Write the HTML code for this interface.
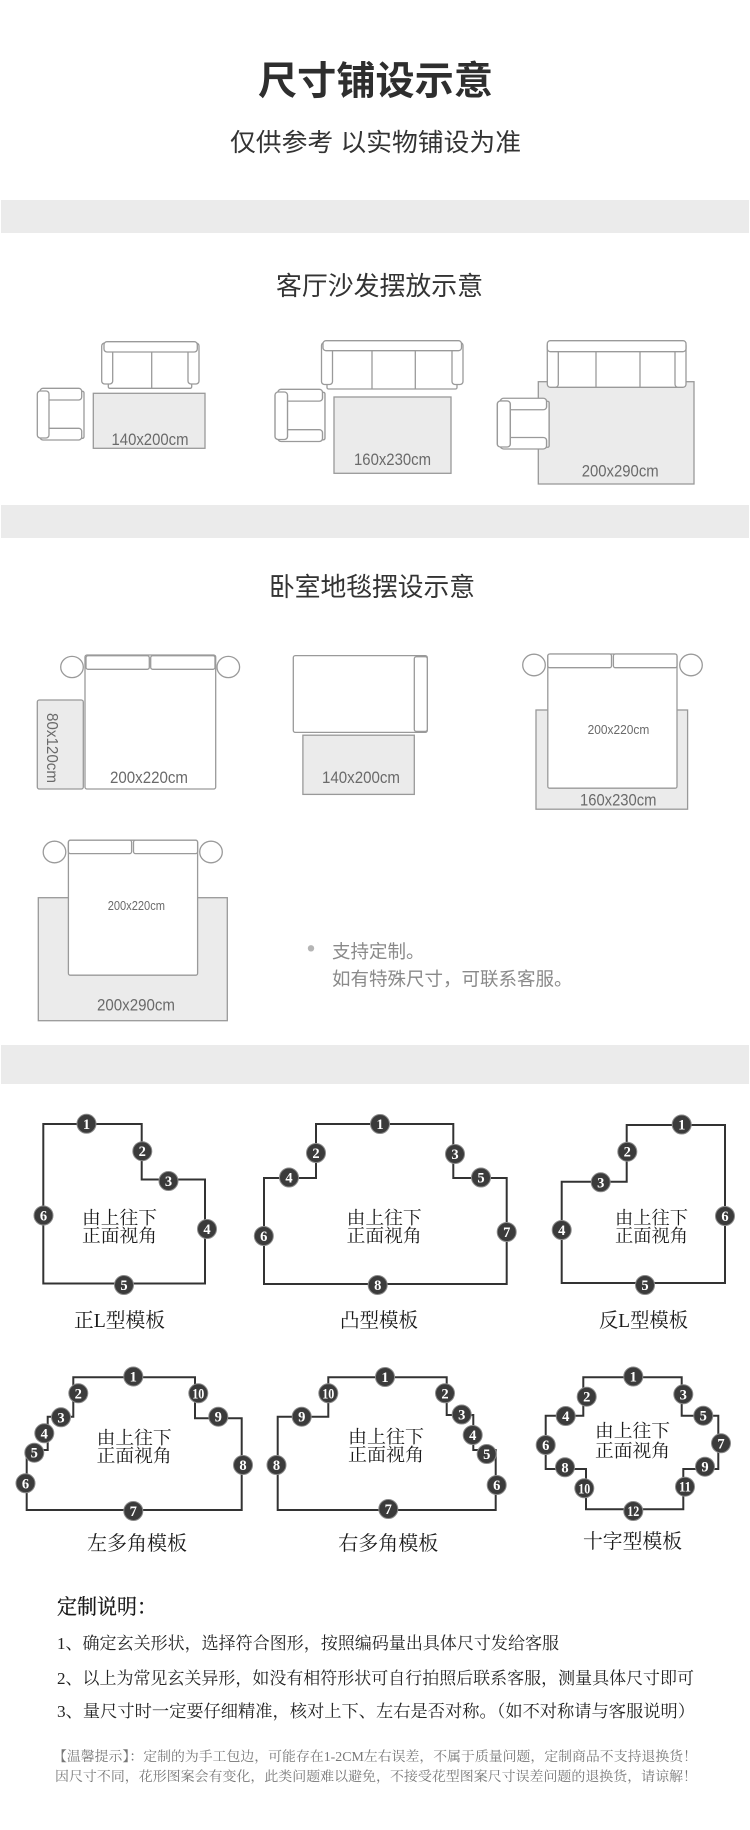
<!DOCTYPE html>
<html><head><meta charset="utf-8"><style>
html,body{margin:0;padding:0;background:#fff;}
svg{display:block;}
.sans{font-family:"Liberation Sans","Noto Sans CJK SC",sans-serif;}
.serif{font-family:"Liberation Serif","Noto Serif CJK SC",serif;}
.f{fill:#fff;stroke:#9a9a9a;stroke-width:1.3;}
.rug{fill:#ebebeb;stroke:#999;stroke-width:1.3;}
.lbl{font-family:"Liberation Sans",sans-serif;fill:#6a6a6a;}
.shp{fill:none;stroke:#333;stroke-width:2;}
.bc{fill:#3b3b3b;stroke:#8a8a8a;stroke-width:1;}
.bt{font-family:"Liberation Serif",serif;font-weight:bold;font-size:14.5px;fill:#fff;text-anchor:middle;}
.st{font-family:"Liberation Serif","Noto Serif CJK SC",serif;font-size:18px;fill:#1a1a1a;text-anchor:middle;}
.sl{font-family:"Liberation Serif","Noto Serif CJK SC",serif;font-size:20px;fill:#1a1a1a;text-anchor:middle;}
</style></head><body>
<svg xmlns="http://www.w3.org/2000/svg" width="750" height="1830" viewBox="0 0 750 1830">
<rect width="750" height="1830" fill="#fff"/>

<!-- Header -->
<text class="sans" x="375.5" y="94.5" font-size="39" font-weight="bold" text-anchor="middle" textLength="235" lengthAdjust="spacingAndGlyphs" fill="#2e2e2e">尺寸铺设示意</text>
<text class="sans" x="375.5" y="151" font-size="25" text-anchor="middle" textLength="291" lengthAdjust="spacingAndGlyphs" fill="#333">仅供参考 以实物铺设为准</text>

<!-- bands -->
<rect x="1" y="200" width="748" height="33" fill="#ebebeb"/>
<rect x="1" y="505" width="748" height="33" fill="#ebebeb"/>
<rect x="1" y="1045" width="748" height="39" fill="#ebebeb"/>

<!-- Living room -->
<text class="sans" x="379.5" y="295" font-size="26" text-anchor="middle" textLength="207" lengthAdjust="spacingAndGlyphs" fill="#333">客厅沙发摆放示意</text>

<!-- diagram 1 -->
<rect class="rug" x="93.3" y="393.3" width="111.7" height="55"/>
<g>
<rect class="f" x="108.3" y="350" width="83.4" height="38.3" rx="1.5"/>
<rect class="f" x="101.7" y="343" width="11" height="41" rx="3"/>
<rect class="f" x="188" y="343" width="11" height="41" rx="3"/>
<rect class="f" x="104" y="341.7" width="93.3" height="10.3" rx="3"/>
<line x1="151.7" y1="352" x2="151.7" y2="388.3" stroke="#9a9a9a" stroke-width="1.3"/>
</g>
<g transform="translate(37.3,388.3)">
<rect class="f" x="9" y="3" width="37.7" height="47" rx="1.5"/>
<rect class="f" x="2.7" y="0" width="41.7" height="11.7" rx="3"/>
<rect class="f" x="2.7" y="40" width="41.7" height="11.7" rx="3"/>
<rect class="f" x="0" y="2.7" width="11.7" height="47" rx="3"/>
</g>
<text class="lbl" x="111.5" y="445" font-size="16.5" textLength="77" lengthAdjust="spacingAndGlyphs">140x200cm</text>

<!-- diagram 2 -->
<rect class="rug" x="334" y="397" width="117" height="76.3"/>
<g>
<rect class="f" x="327" y="350" width="130" height="39" rx="1.5"/>
<rect class="f" x="321.5" y="342.5" width="11" height="42" rx="3"/>
<rect class="f" x="452" y="342.5" width="11" height="42" rx="3"/>
<rect class="f" x="323" y="340.7" width="138.5" height="10" rx="3"/>
<line x1="372" y1="351" x2="372" y2="389" stroke="#9a9a9a" stroke-width="1.3"/>
<line x1="415.3" y1="351" x2="415.3" y2="389" stroke="#9a9a9a" stroke-width="1.3"/>
</g>
<g transform="translate(275,389.3) scale(1.07,1.01)">
<rect class="f" x="9" y="3" width="37.7" height="47" rx="1.5"/>
<rect class="f" x="2.7" y="0" width="41.7" height="11.7" rx="3"/>
<rect class="f" x="2.7" y="40" width="41.7" height="11.7" rx="3"/>
<rect class="f" x="0" y="2.7" width="11.7" height="47" rx="3"/>
</g>
<text class="lbl" x="354" y="465" font-size="16.5" textLength="77" lengthAdjust="spacingAndGlyphs">160x230cm</text>

<!-- diagram 3 -->
<rect class="rug" x="538.3" y="381.7" width="155.7" height="102.3"/>
<g>
<rect class="f" x="553" y="351" width="127" height="36.3" rx="1.5"/>
<rect class="f" x="547.3" y="342.7" width="11" height="44.6" rx="3"/>
<rect class="f" x="675" y="342.7" width="11" height="44.6" rx="3"/>
<rect class="f" x="547.3" y="340.7" width="138.7" height="11" rx="3"/>
<line x1="596" y1="352" x2="596" y2="387.3" stroke="#9a9a9a" stroke-width="1.3"/>
<line x1="640" y1="352" x2="640" y2="387.3" stroke="#9a9a9a" stroke-width="1.3"/>
</g>
<g transform="translate(497.3,398.3) scale(1.11,0.98)">
<rect class="f" x="9" y="3" width="37.7" height="47" rx="1.5"/>
<rect class="f" x="2.7" y="0" width="41.7" height="11.7" rx="3"/>
<rect class="f" x="2.7" y="40" width="41.7" height="11.7" rx="3"/>
<rect class="f" x="0" y="2.7" width="11.7" height="47" rx="3"/>
</g>
<text class="lbl" x="581.7" y="476.5" font-size="16.5" textLength="77" lengthAdjust="spacingAndGlyphs">200x290cm</text>

<!-- Bedroom -->
<text class="sans" x="372" y="596" font-size="26" text-anchor="middle" textLength="206" lengthAdjust="spacingAndGlyphs" fill="#333">卧室地毯摆设示意</text>

<!-- bed 1 -->
<rect class="rug" x="37.3" y="700" width="46" height="89" rx="2"/>
<text class="lbl" transform="translate(47,748) rotate(90)" x="0" y="0" font-size="16" text-anchor="middle" textLength="70" lengthAdjust="spacingAndGlyphs">80x120cm</text>
<ellipse class="f" cx="72" cy="667" rx="11.3" ry="10.6"/>
<ellipse class="f" cx="228.3" cy="667" rx="11.3" ry="10.6"/>
<rect class="f" x="85" y="655" width="130.7" height="134" rx="2"/>
<rect class="f" x="86" y="655.7" width="63.3" height="13.6" rx="2"/>
<rect class="f" x="150.7" y="655.7" width="64.3" height="13.6" rx="2"/>
<text class="lbl" x="110" y="783" font-size="16.5" textLength="78" lengthAdjust="spacingAndGlyphs">200x220cm</text>

<!-- bed 2 -->
<rect class="f" x="293.3" y="655.6" width="134" height="76.8" rx="2"/>
<rect class="f" x="414.3" y="656.7" width="13" height="74.7" rx="2"/>
<rect class="rug" x="302.9" y="735.2" width="111.4" height="59.2"/>
<text class="lbl" x="322" y="783" font-size="16.5" textLength="78" lengthAdjust="spacingAndGlyphs">140x200cm</text>

<!-- bed 3 -->
<rect class="rug" x="536" y="710" width="151.6" height="99.2"/>
<ellipse class="f" cx="534" cy="665" rx="11.3" ry="10.8"/>
<ellipse class="f" cx="691" cy="665" rx="11.3" ry="10.8"/>
<rect class="f" x="547.8" y="654" width="129.2" height="134.2" rx="2"/>
<rect class="f" x="547.8" y="654" width="63.7" height="13.7" rx="2"/>
<rect class="f" x="613.4" y="654" width="63.6" height="13.7" rx="2"/>
<text class="lbl" x="587.6" y="734" font-size="13" textLength="61.7" lengthAdjust="spacingAndGlyphs">200x220cm</text>
<text class="lbl" x="580" y="805.5" font-size="16.5" textLength="76.5" lengthAdjust="spacingAndGlyphs">160x230cm</text>

<!-- bed 4 -->
<rect class="rug" x="38.3" y="897.7" width="189" height="123"/>
<ellipse class="f" cx="54.5" cy="852" rx="11.3" ry="10.8"/>
<ellipse class="f" cx="211" cy="852" rx="11.3" ry="10.8"/>
<rect class="f" x="68.4" y="840.2" width="129.2" height="135" rx="2"/>
<rect class="f" x="68.4" y="840.2" width="63.2" height="13.4" rx="2"/>
<rect class="f" x="133.5" y="840.2" width="64.1" height="13.4" rx="2"/>
<text class="lbl" x="107.7" y="910" font-size="13" textLength="57.3" lengthAdjust="spacingAndGlyphs">200x220cm</text>
<text class="lbl" x="97" y="1010.5" font-size="16.5" textLength="78" lengthAdjust="spacingAndGlyphs">200x290cm</text>

<!-- bullet text -->
<circle cx="311" cy="948.3" r="3.2" fill="#b5b5b5"/>
<text class="sans" x="332" y="958" font-size="18.5" fill="#8a8a8a">支持定制。</text>
<text class="sans" x="332" y="985.5" font-size="18.5" fill="#8a8a8a">如有特殊尺寸，可联系客服。</text>

<!-- ===== Shapes row 1 ===== -->
<!-- 正L -->
<polygon class="shp" points="43.3,1124 141.7,1124 141.7,1179.5 205,1179.5 205,1283.5 43.3,1283.5"/>
<text class="st" x="119.5" y="1224" textLength="75" lengthAdjust="spacingAndGlyphs">由上往下</text>
<text class="st" x="119.5" y="1242" textLength="75" lengthAdjust="spacingAndGlyphs">正面视角</text>
<g><circle class="bc" cx="86.5" cy="1123.8" r="9.5"/><text class="bt" x="86.5" y="1128.8">1</text></g>
<g><circle class="bc" cx="142.3" cy="1151.2" r="9.5"/><text class="bt" x="142.3" y="1156.2">2</text></g>
<g><circle class="bc" cx="168.5" cy="1181" r="9.5"/><text class="bt" x="168.5" y="1186">3</text></g>
<g><circle class="bc" cx="207" cy="1229" r="9.5"/><text class="bt" x="207" y="1234">4</text></g>
<g><circle class="bc" cx="124" cy="1285" r="9.5"/><text class="bt" x="124" y="1290">5</text></g>
<g><circle class="bc" cx="43.5" cy="1215.5" r="9.5"/><text class="bt" x="43.5" y="1220.5">6</text></g>
<text class="sl" x="119.5" y="1327" textLength="91" lengthAdjust="spacingAndGlyphs">正L型模板</text>

<!-- 凸 -->
<polygon class="shp" points="316,1124 453.3,1124 453.3,1178 506.7,1178 506.7,1284 264,1284 264,1178 316,1178"/>
<text class="st" x="384.2" y="1224" textLength="75" lengthAdjust="spacingAndGlyphs">由上往下</text>
<text class="st" x="384.2" y="1242" textLength="75" lengthAdjust="spacingAndGlyphs">正面视角</text>
<g><circle class="bc" cx="380" cy="1124" r="9.5"/><text class="bt" x="380" y="1129">1</text></g>
<g><circle class="bc" cx="316" cy="1153" r="9.5"/><text class="bt" x="316" y="1158">2</text></g>
<g><circle class="bc" cx="455" cy="1154" r="9.5"/><text class="bt" x="455" y="1159">3</text></g>
<g><circle class="bc" cx="289" cy="1177.5" r="9.5"/><text class="bt" x="289" y="1182.5">4</text></g>
<g><circle class="bc" cx="481" cy="1177.5" r="9.5"/><text class="bt" x="481" y="1182.5">5</text></g>
<g><circle class="bc" cx="263.8" cy="1236" r="9.5"/><text class="bt" x="263.8" y="1241">6</text></g>
<g><circle class="bc" cx="506.7" cy="1232" r="9.5"/><text class="bt" x="506.7" y="1237">7</text></g>
<g><circle class="bc" cx="377.7" cy="1285" r="9.5"/><text class="bt" x="377.7" y="1290">8</text></g>
<text class="sl" x="379" y="1327" textLength="78" lengthAdjust="spacingAndGlyphs">凸型模板</text>

<!-- 反L -->
<polygon class="shp" points="626.7,1125 725,1125 725,1283 561.7,1283 561.7,1181.7 626.7,1181.7"/>
<text class="st" x="651.5" y="1224" textLength="73" lengthAdjust="spacingAndGlyphs">由上往下</text>
<text class="st" x="651.5" y="1242" textLength="73" lengthAdjust="spacingAndGlyphs">正面视角</text>
<g><circle class="bc" cx="681.7" cy="1124.5" r="9.5"/><text class="bt" x="681.7" y="1129.5">1</text></g>
<g><circle class="bc" cx="627.3" cy="1151.7" r="9.5"/><text class="bt" x="627.3" y="1156.7">2</text></g>
<g><circle class="bc" cx="600.7" cy="1182.3" r="9.5"/><text class="bt" x="600.7" y="1187.3">3</text></g>
<g><circle class="bc" cx="561.7" cy="1230" r="9.5"/><text class="bt" x="561.7" y="1235">4</text></g>
<g><circle class="bc" cx="645" cy="1285" r="9.5"/><text class="bt" x="645" y="1290">5</text></g>
<g><circle class="bc" cx="725" cy="1216" r="9.5"/><text class="bt" x="725" y="1221">6</text></g>
<text class="sl" x="643.5" y="1327" textLength="89" lengthAdjust="spacingAndGlyphs">反L型模板</text>

<!-- ===== Shapes row 2 ===== -->
<!-- 左多角 -->
<polygon class="shp" points="73.3,1377.3 195,1377.3 195,1418.3 241.7,1418.3 241.7,1510 26.7,1510 26.7,1450 47.7,1450 47.7,1416.7 73.3,1416.7"/>
<text class="st" x="134.2" y="1444" textLength="75" lengthAdjust="spacingAndGlyphs">由上往下</text>
<text class="st" x="134.2" y="1462" textLength="75" lengthAdjust="spacingAndGlyphs">正面视角</text>
<g><circle class="bc" cx="133.3" cy="1376.5" r="9.5"/><text class="bt" x="133.3" y="1381.5">1</text></g>
<g><circle class="bc" cx="78.3" cy="1393.3" r="9.5"/><text class="bt" x="78.3" y="1398.3">2</text></g>
<g><circle class="bc" cx="61" cy="1417.3" r="9.5"/><text class="bt" x="61" y="1422.3">3</text></g>
<g><circle class="bc" cx="44.3" cy="1433.3" r="9.5"/><text class="bt" x="44.3" y="1438.3">4</text></g>
<g><circle class="bc" cx="34.3" cy="1452.7" r="9.5"/><text class="bt" x="34.3" y="1457.7">5</text></g>
<g><circle class="bc" cx="25.5" cy="1483.3" r="9.5"/><text class="bt" x="25.5" y="1488.3">6</text></g>
<g><circle class="bc" cx="133.3" cy="1511" r="9.5"/><text class="bt" x="133.3" y="1516">7</text></g>
<g><circle class="bc" cx="243" cy="1465" r="9.5"/><text class="bt" x="243" y="1470">8</text></g>
<g><circle class="bc" cx="218.3" cy="1416.7" r="9.5"/><text class="bt" x="218.3" y="1421.7">9</text></g>
<g><circle class="bc" cx="198.3" cy="1393.3" r="9.5"/><text class="bt" x="198.3" y="1398.3" textLength="12" lengthAdjust="spacingAndGlyphs">10</text></g>
<text class="sl" x="137" y="1550" textLength="100" lengthAdjust="spacingAndGlyphs">左多角模板</text>

<!-- 右多角 -->
<polygon class="shp" points="277.7,1510 277.7,1416.7 328.3,1416.7 328.3,1377.3 446.7,1377.3 446.7,1415 473.3,1415 473.3,1450 495.7,1450 495.7,1510"/>
<text class="st" x="386" y="1443" textLength="76" lengthAdjust="spacingAndGlyphs">由上往下</text>
<text class="st" x="386" y="1461" textLength="76" lengthAdjust="spacingAndGlyphs">正面视角</text>
<g><circle class="bc" cx="385" cy="1377" r="9.5"/><text class="bt" x="385" y="1382">1</text></g>
<g><circle class="bc" cx="445" cy="1393.3" r="9.5"/><text class="bt" x="445" y="1398.3">2</text></g>
<g><circle class="bc" cx="461.7" cy="1414.5" r="9.5"/><text class="bt" x="461.7" y="1419.5">3</text></g>
<g><circle class="bc" cx="472.7" cy="1435" r="9.5"/><text class="bt" x="472.7" y="1440">4</text></g>
<g><circle class="bc" cx="486.7" cy="1454" r="9.5"/><text class="bt" x="486.7" y="1459">5</text></g>
<g><circle class="bc" cx="496.7" cy="1485" r="9.5"/><text class="bt" x="496.7" y="1490">6</text></g>
<g><circle class="bc" cx="388.3" cy="1509" r="9.5"/><text class="bt" x="388.3" y="1514">7</text></g>
<g><circle class="bc" cx="276.5" cy="1465" r="9.5"/><text class="bt" x="276.5" y="1470">8</text></g>
<g><circle class="bc" cx="301.7" cy="1416.7" r="9.5"/><text class="bt" x="301.7" y="1421.7">9</text></g>
<g><circle class="bc" cx="328.3" cy="1393.3" r="9.5"/><text class="bt" x="328.3" y="1398.3" textLength="12" lengthAdjust="spacingAndGlyphs">10</text></g>
<text class="sl" x="388.3" y="1550" textLength="100" lengthAdjust="spacingAndGlyphs">右多角模板</text>

<!-- 十字 -->
<polygon class="shp" points="583.3,1377.3 681.7,1377.3 681.7,1415.7 718.3,1415.7 718.3,1469 683.3,1469 683.3,1509.3 586,1509.3 586,1469 545.7,1469 545.7,1415.7 583.3,1415.7"/>
<text class="st" x="632.5" y="1437" textLength="75" lengthAdjust="spacingAndGlyphs">由上往下</text>
<text class="st" x="632.5" y="1457" textLength="75" lengthAdjust="spacingAndGlyphs">正面视角</text>
<g><circle class="bc" cx="633.3" cy="1376.5" r="9.5"/><text class="bt" x="633.3" y="1381.5">1</text></g>
<g><circle class="bc" cx="586.7" cy="1396.7" r="9.5"/><text class="bt" x="586.7" y="1401.7">2</text></g>
<g><circle class="bc" cx="683.3" cy="1394.3" r="9.5"/><text class="bt" x="683.3" y="1399.3">3</text></g>
<g><circle class="bc" cx="565.7" cy="1416" r="9.5"/><text class="bt" x="565.7" y="1421">4</text></g>
<g><circle class="bc" cx="703.3" cy="1415.7" r="9.5"/><text class="bt" x="703.3" y="1420.7">5</text></g>
<g><circle class="bc" cx="545.7" cy="1445" r="9.5"/><text class="bt" x="545.7" y="1450">6</text></g>
<g><circle class="bc" cx="721" cy="1443.3" r="9.5"/><text class="bt" x="721" y="1448.3">7</text></g>
<g><circle class="bc" cx="565" cy="1467.3" r="9.5"/><text class="bt" x="565" y="1472.3">8</text></g>
<g><circle class="bc" cx="705" cy="1466.7" r="9.5"/><text class="bt" x="705" y="1471.7">9</text></g>
<g><circle class="bc" cx="584.3" cy="1488.3" r="9.5"/><text class="bt" x="584.3" y="1493.3" textLength="12" lengthAdjust="spacingAndGlyphs">10</text></g>
<g><circle class="bc" cx="685" cy="1486.7" r="9.5"/><text class="bt" x="685" y="1491.7" textLength="12" lengthAdjust="spacingAndGlyphs">11</text></g>
<g><circle class="bc" cx="633.3" cy="1511" r="9.5"/><text class="bt" x="633.3" y="1516" textLength="12" lengthAdjust="spacingAndGlyphs">12</text></g>
<text class="sl" x="632.5" y="1548" textLength="99" lengthAdjust="spacingAndGlyphs">十字型模板</text>

<!-- ===== Bottom text ===== -->
<text class="serif" x="57" y="1614" font-size="21" fill="#1a1a1a" stroke="#1a1a1a" stroke-width="0.3" textLength="100" lengthAdjust="spacingAndGlyphs">定制说明：</text>
<text class="serif" x="57" y="1649" font-size="17" fill="#222" textLength="502" lengthAdjust="spacingAndGlyphs">1、确定玄关形状，选择符合图形，按照编码量出具体尺寸发给客服</text>
<text class="serif" x="57" y="1684" font-size="17" fill="#222" textLength="637" lengthAdjust="spacingAndGlyphs">2、以上为常见玄关异形，如没有相符形状可自行拍照后联系客服，测量具体尺寸即可</text>
<text class="serif" x="57" y="1717" font-size="17" fill="#222" textLength="638" lengthAdjust="spacingAndGlyphs">3、量尺寸时一定要仔细精准，核对上下、左右是否对称。（如不对称请与客服说明）</text>
<text class="serif" x="53" y="1761" font-size="13.5" fill="#777" textLength="644" lengthAdjust="spacingAndGlyphs">【温馨提示】：定制的为手工包边，可能存在1-2CM左右误差，不属于质量问题，定制商品不支持退换货！</text>
<text class="serif" x="55" y="1781" font-size="13.5" fill="#777" textLength="642" lengthAdjust="spacingAndGlyphs">因尺寸不同，花形图案会有变化，此类问题难以避免，不接受花型图案尺寸误差问题的退换货，请谅解！</text>
</svg>
</body></html>
